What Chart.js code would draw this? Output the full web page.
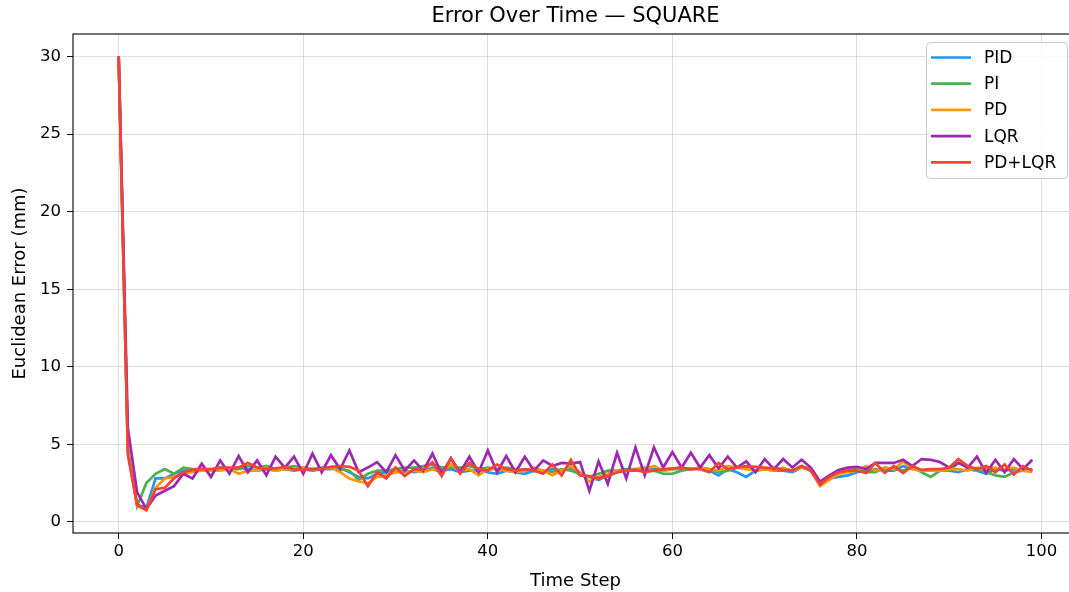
<!DOCTYPE html>
<html><head><meta charset="utf-8">
<script src="https://cdn.jsdelivr.net/npm/chart.js@4/dist/chart.umd.min.js"></script>
<style>html,body{margin:0;padding:0;background:#fff;overflow:hidden;width:1069px;height:592px;}#wrap{width:1078px;height:592px;}</style>
</head><body><div id="wrap"><canvas id="c" width="1078" height="592"></canvas></div>
<script>
const TITLE = "Error Over Time — SQUARE";
const X_LABEL = "Time Step";
const Y_LABEL = "Euclidean Error (mm)";
const SERIES_NAMES = ["PID", "PI", "PD", "LQR", "PD+LQR"];
const SERIES_COLORS = ["#2196F3", "#4CAF50", "#FF9800", "#9C27B0", "#F44336"];
const X_TICKS = [0, 20, 40, 60, 80, 100];
const Y_TICKS = [0, 5, 10, 15, 20, 25, 30];
const steps = Array.from({length: 100}, (_, i) => i);

const pid = [30,4.6,1.1,0.9,2.8,2.8,3.1,3.3,3.3,3.4,3.3,3.4,3.4,3.5,3.4,3.3,3.4,3.3,3.4,3.3,
 3.4,3.3,3.4,3.4,3.5,3.2,2.9,2.8,3.1,3.2,3.2,3.3,3.2,3.3,3.5,3.3,3.4,3.2,3.3,3.3,
 3.2,3.1,3.3,3.2,3.1,3.3,3.2,3.4,3.3,3.5,3.0,2.9,2.7,3.0,3.2,3.3,3.3,3.3,3.4,3.3,
 3.4,3.4,3.4,3.5,3.3,3.0,3.4,3.2,2.9,3.3,3.4,3.3,3.3,3.2,3.5,3.3,2.5,2.8,2.9,3.0,
 3.2,3.3,3.4,3.3,3.3,3.6,3.4,3.3,3.3,3.3,3.3,3.2,3.4,3.3,3.1,3.4,3.3,3.4,3.3,3.4];
const pi = [30,4.6,1.0,2.5,3.1,3.4,3.1,3.5,3.4,3.4,3.3,3.5,3.4,3.4,3.6,3.5,3.6,3.4,3.5,3.6,
 3.5,3.4,3.5,3.5,3.4,3.3,2.7,3.1,3.3,3.3,3.4,3.5,3.5,3.6,3.7,3.5,3.5,3.5,3.6,3.4,
 3.5,3.4,3.5,3.4,3.3,3.4,3.3,3.2,3.4,3.3,3.1,2.9,3.1,3.3,3.3,3.4,3.4,3.5,3.3,3.1,
 3.1,3.3,3.4,3.5,3.4,3.2,3.3,3.5,3.5,3.3,3.4,3.5,3.4,3.3,3.6,3.4,2.5,2.9,3.3,3.3,
 3.4,3.2,3.2,3.5,3.4,3.3,3.6,3.2,2.9,3.3,3.3,3.8,3.5,3.4,3.2,3.0,2.9,3.2,3.3,3.3];
const pd = [30,4.5,1.0,0.8,2.2,2.8,2.9,3.1,3.2,3.3,3.3,3.3,3.4,3.1,3.3,3.3,3.5,3.3,3.4,3.4,
 3.5,3.4,3.4,3.5,3.2,2.8,2.6,2.5,2.9,3.0,3.2,3.2,3.3,3.2,3.4,3.2,3.7,3.3,3.4,3.0,
 3.4,3.4,3.3,3.2,3.3,3.5,3.3,3.0,3.3,3.6,3.2,2.6,2.9,3.1,3.3,3.3,3.4,3.4,3.6,3.3,
 3.4,3.5,3.4,3.5,3.4,3.3,3.6,3.5,3.4,3.3,3.4,3.3,3.5,3.3,3.5,3.3,2.3,2.7,3.1,3.2,
 3.3,3.6,3.3,3.5,3.4,3.9,3.4,3.3,3.3,3.3,3.4,3.4,3.3,3.5,3.4,3.5,3.4,3.5,3.3,3.2];
const lqr = [30,6.0,1.9,0.84,1.7,2.0,2.3,3.1,2.8,3.75,2.9,3.96,3.1,4.24,3.2,3.96,3.0,4.2,3.5,4.2,
 3.1,4.4,3.2,4.3,3.4,4.6,3.2,3.5,3.85,3.2,4.3,3.3,3.96,3.3,4.4,3.1,4.1,3.2,4.2,3.2,
 4.6,3.2,4.24,3.2,4.2,3.3,3.96,3.6,3.8,3.75,3.85,2.0,3.9,2.45,4.45,2.8,4.8,3.0,4.8,3.5,
 4.5,3.5,4.45,3.5,4.3,3.45,4.2,3.5,3.9,3.2,4.05,3.4,4.05,3.5,4.0,3.5,2.6,3.0,3.35,3.5,
 3.55,3.4,3.8,3.8,3.8,4.0,3.6,4.05,4.0,3.85,3.5,3.8,3.5,4.2,3.15,4.0,3.2,4.05,3.4,4.0];
const pdlqr = [30,4.3,1.1,0.75,2.1,2.2,2.8,3.2,3.35,3.4,3.4,3.5,3.5,3.5,3.8,3.5,3.4,3.45,3.55,3.4,
 3.35,3.4,3.4,3.55,3.6,3.55,3.3,2.3,3.2,2.8,3.5,2.95,3.4,3.35,3.85,2.95,4.1,3.1,3.8,3.4,
 3.3,3.7,3.4,3.3,3.4,3.3,3.1,3.7,3.0,4.0,3.0,2.95,2.8,2.95,3.2,3.3,3.35,3.2,3.3,3.4,
 3.45,3.5,3.4,3.4,3.2,3.8,3.4,3.5,3.6,3.55,3.5,3.45,3.35,3.3,3.6,3.3,2.4,2.9,3.2,3.3,
 3.3,3.15,3.8,3.15,3.6,3.15,3.6,3.35,3.4,3.4,3.5,4.05,3.6,3.4,3.6,3.2,3.7,3.05,3.6,3.3];

const SERIES_VALUES = [pid, pi, pd, lqr, pdlqr];
const FONT = "'DejaVu Sans', sans-serif";

const datasets = SERIES_NAMES.map((name, i) => ({
  label: name,
  data: SERIES_VALUES[i].map((v, k) => ({x: steps[k], y: v})),
  borderColor: SERIES_COLORS[i],
  backgroundColor: SERIES_COLORS[i],
  borderWidth: 2.7,
  pointRadius: 0,
  tension: 0,
  fill: false,
  order: SERIES_NAMES.length - 1 - i
}));

const framePlugin = {
  id: 'frame',
  afterDatasetsDraw(chart) {
    const {ctx, chartArea: a} = chart;
    ctx.save();
    ctx.strokeStyle = '#000';
    ctx.lineWidth = 1.1;
    ctx.strokeRect(a.left, a.top, a.right - a.left, a.bottom - a.top);
    ctx.restore();
  }
};

const titlePlugin = {
  id: 'axTitle',
  afterDraw(chart) {
    const {ctx, chartArea: a} = chart;
    ctx.save();
    ctx.font = "21px " + FONT;
    ctx.fillStyle = '#000';
    ctx.textAlign = 'center';
    ctx.textBaseline = 'middle';
    ctx.fillText(TITLE, (a.left + a.right) / 2, 17);
    ctx.restore();
  }
};

const legendPlugin = {
  id: 'customLegend',
  afterDraw(chart) {
    const ctx = chart.ctx;
    const x0 = 926, y0 = 42, w = 141, h = 136;
    ctx.save();
    ctx.beginPath();
    if (ctx.roundRect) ctx.roundRect(x0 + 0.5, y0 + 0.5, w, h, 4); else ctx.rect(x0 + 0.5, y0 + 0.5, w, h);
    ctx.fillStyle = 'rgba(255,255,255,0.85)';
    ctx.fill();
    ctx.strokeStyle = '#cccccc';
    ctx.lineWidth = 1;
    ctx.stroke();
    ctx.font = "17px " + FONT;
    ctx.textBaseline = 'middle';
    ctx.textAlign = 'left';
    chart.data.datasets.forEach((ds, i) => {
      const cy = 57.5 + i * 26.2;
      ctx.strokeStyle = ds.borderColor;
      ctx.lineWidth = 2.7;
      ctx.beginPath();
      ctx.moveTo(931, cy);
      ctx.lineTo(971, cy);
      ctx.stroke();
      ctx.fillStyle = '#000';
      ctx.fillText(ds.label, 984, cy + 1);
    });
    ctx.restore();
  }
};

new Chart(document.getElementById('c'), {
  type: 'line',
  data: {datasets},
  plugins: [framePlugin, titlePlugin, legendPlugin],
  options: {
    responsive: false,
    animation: false,
    events: [],
    layout: {padding: {left: 0, right: 0, top: 34, bottom: 0}},
    plugins: {
      legend: {display: false},
      tooltip: {enabled: false},
      title: {display: false}
    },
    scales: {
      x: {
        type: 'linear',
        min: -4.95,
        max: 103.95,
        afterBuildTicks: (s) => { s.ticks = X_TICKS.map(v => ({value: v})); },
        afterFit: (s) => { s.height = 59; },
        ticks: {color: '#000', font: {family: FONT, size: 16.5}, padding: 3, maxRotation: 0, includeBounds: false},
        grid: {color: 'rgba(0,0,0,0.13)', lineWidth: 1, tickColor: '#000', tickLength: 6, drawOnChartArea: true},
        border: {display: false},
        title: {display: true, text: X_LABEL, color: '#000', font: {family: FONT, size: 18}, padding: {top: 2, bottom: 0}}
      },
      y: {
        type: 'linear',
        min: -0.72,
        max: 31.46,
        afterBuildTicks: (s) => { s.ticks = Y_TICKS.map(v => ({value: v})); },
        afterFit: (s) => { s.width = 73; },
        ticks: {color: '#000', font: {family: FONT, size: 16.5}, padding: 6, includeBounds: false},
        grid: {color: 'rgba(0,0,0,0.13)', lineWidth: 1, tickColor: '#000', tickLength: 6},
        border: {display: false},
        title: {display: true, text: Y_LABEL, color: '#000', font: {family: FONT, size: 18}, padding: {top: 10, bottom: 0}}
      }
    }
  }
});
</script>
</body></html>
